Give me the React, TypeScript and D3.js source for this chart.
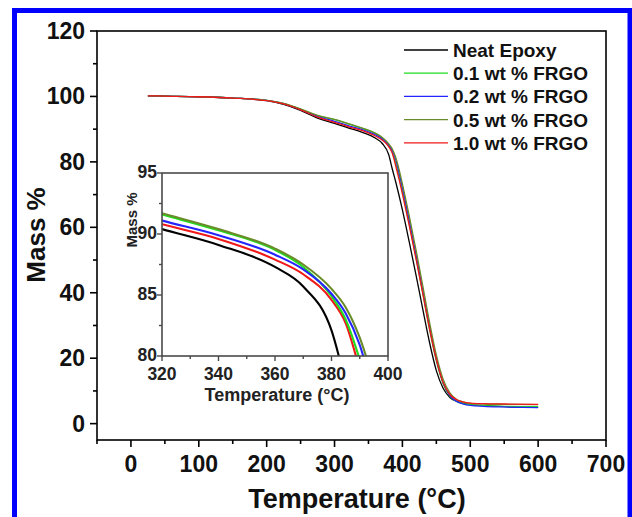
import * as d3 from "d3";

// temperatures (°C) shared by every TGA curve
const temps = [25, 50, 100, 150, 200, 225, 250, 275, 300, 320, 340, 360, 370, 380, 385, 390, 395, 400, 410, 420, 430, 440, 450, 460, 470, 480, 490, 500, 520, 550, 600];

// mass % for each sample
const neatEpoxy = [100.2, 100.1, 99.9, 99.5, 98.7, 97.6, 95.7, 93.4, 91.8, 90.4, 89.1, 87.3, 85.7, 82.1, 77.9, 74.0, 69.8, 65.3, 55.6, 45.5, 35.0, 24.8, 16.2, 10.8, 8.0, 6.8, 6.2, 5.8, 5.5, 5.2, 5.0];
const frgo01 = [100.2, 100.1, 99.9, 99.5, 98.8, 97.8, 96.1, 94.1, 92.9, 91.6, 90.3, 88.7, 87.3, 84.9, 83.0, 79.7, 75.5, 71.0, 61.2, 50.8, 39.8, 28.8, 19.2, 12.2, 8.4, 6.8, 6.1, 5.8, 5.5, 5.3, 5.2];
const frgo02 = [100.2, 100.1, 99.9, 99.5, 98.8, 97.8, 96.0, 93.9, 92.4, 91.1, 89.9, 88.3, 87.1, 85.1, 83.5, 80.9, 76.8, 72.2, 62.3, 51.8, 40.8, 29.6, 19.8, 12.6, 8.6, 6.8, 6.0, 5.6, 5.3, 5.1, 4.9];
const frgo05 = [100.2, 100.1, 99.9, 99.5, 98.8, 97.9, 96.2, 94.2, 93.0, 91.7, 90.4, 88.8, 87.5, 85.5, 84.0, 81.5, 77.8, 73.3, 63.6, 53.2, 42.2, 31.0, 21.0, 13.6, 9.4, 7.4, 6.6, 6.2, 6.0, 5.9, 5.8];
const frgo10 = [100.2, 100.1, 99.9, 99.5, 98.7, 97.7, 95.9, 93.7, 92.1, 90.8, 89.6, 87.9, 86.7, 84.6, 82.7, 78.9, 74.7, 70.2, 60.6, 50.4, 39.8, 29.0, 19.6, 12.6, 8.9, 7.3, 6.6, 6.3, 6.1, 6.0, 5.9];

const seriesNames = ["Neat Epoxy", "0.1 wt % FRGO", "0.2 wt % FRGO", "0.5 wt % FRGO", "1.0 wt % FRGO"];
const seriesValues = [neatEpoxy, frgo01, frgo02, frgo05, frgo10];
const seriesColors = ["#000000", "#1fdc1f", "#2424ff", "#6a8c28", "#f01818"];

const xTicks = [0, 100, 200, 300, 400, 500, 600, 700];
const xMinor = [-50, 50, 150, 250, 350, 450, 550, 650];
const yTicks = [0, 20, 40, 60, 80, 100, 120];
const yMinor = [10, 30, 50, 70, 90, 110];

const insetXTicks = [320, 340, 360, 380, 400];
const insetXMinor = [330, 350, 370, 390];
const insetYTicks = [80, 85, 90, 95];
const insetYMinor = [82.5, 87.5, 92.5];

const W = 632;
const H = 517;
const FONT = "'Liberation Sans', Arial, Helvetica, sans-serif";

export default function App() {
  // main plot scales
  const x = d3.scaleLinear().domain([-50, 700]).range([97, 606]);
  const y = d3.scaleLinear().domain([-5, 120]).range([440, 31]);
  // inset scales
  const ix = d3.scaleLinear().domain([320, 400]).range([162, 388]);
  const iy = d3.scaleLinear().domain([80, 95]).range([356, 173]);

  const pts = (vals: number[]) => temps.map((t, i) => [t, vals[i]] as [number, number]);

  const mainLine = d3
    .line<[number, number]>()
    .x(d => x(d[0]))
    .y(d => y(d[1]))
    .curve(d3.curveMonotoneX);

  const insetLine = d3
    .line<[number, number]>()
    .x(d => ix(d[0]))
    .y(d => iy(d[1]))
    .curve(d3.curveMonotoneX);

  const [x0, x1] = x.range();
  const [yb, yt] = y.range();
  const [ix0, ix1] = ix.range();
  const [iyb, iyt] = iy.range();

  const legendY0 = 50;
  const legendStep = 23.2;

  return (
    <svg width={W} height={H} style={{ position: "absolute", left: 0, top: 0, background: "#fff" }} fontFamily={FONT}>
      <rect x={0} y={0} width={W} height={H} fill="#fff" />
      <defs>
        <clipPath id="insetClip">
          <rect x={ix0} y={iyt} width={ix1 - ix0} height={iyb - iyt} />
        </clipPath>
      </defs>

      {/* main curves */}
      <g fill="none" strokeWidth={1.3}>
        {seriesValues.map((v, i) => (
          <path key={i} d={mainLine(pts(v)) || ""} stroke={seriesColors[i]} />
        ))}
      </g>

      {/* main frame */}
      <rect x={x0} y={yt} width={x1 - x0} height={yb - yt} fill="none" stroke="#000" strokeWidth={1.6} />

      {/* main ticks */}
      <g stroke="#000" strokeWidth={1.6}>
        {xTicks.map(t => (
          <line key={"xt" + t} x1={x(t)} x2={x(t)} y1={yb} y2={yb + 7} />
        ))}
        {xMinor.map(t => (
          <line key={"xm" + t} x1={x(t)} x2={x(t)} y1={yb} y2={yb + 4} />
        ))}
        {yTicks.map(t => (
          <line key={"yt" + t} x1={x0} x2={x0 - 7} y1={y(t)} y2={y(t)} />
        ))}
        {yMinor.map(t => (
          <line key={"ym" + t} x1={x0} x2={x0 - 4} y1={y(t)} y2={y(t)} />
        ))}
      </g>
      <g fontSize={23} fontWeight="bold" fill="#111">
        {xTicks.map(t => (
          <text key={"xl" + t} x={x(t)} y={472} textAnchor="middle">{t}</text>
        ))}
        {yTicks.map(t => (
          <text key={"yl" + t} x={85} y={y(t) + 8} textAnchor="end">{t}</text>
        ))}
      </g>
      <text x={357} y={508} textAnchor="middle" fontSize={27} fontWeight="bold" fill="#111">Temperature (°C)</text>
      <text transform={`translate(45,235) rotate(-90)`} textAnchor="middle" fontSize={26} fontWeight="bold" fill="#111">Mass %</text>

      {/* legend */}
      <g fontSize={19} fontWeight="bold" fill="#111">
        {seriesNames.map((n, i) => (
          <g key={n}>
            <line x1={404} x2={448} y1={legendY0 + i * legendStep} y2={legendY0 + i * legendStep} stroke={seriesColors[i]} strokeWidth={1.3} />
            <text x={453} y={legendY0 + i * legendStep + 7}>{n}</text>
          </g>
        ))}
      </g>

      {/* inset */}
      <rect x={ix0} y={iyt} width={ix1 - ix0} height={iyb - iyt} fill="#fff" />
      <g fill="none" strokeWidth={2.1} clipPath="url(#insetClip)">
        {[0, 4, 1, 2, 3].map(i => (
          <path key={i} d={insetLine(pts(seriesValues[i])) || ""} stroke={seriesColors[i]} />
        ))}
      </g>
      <rect x={ix0} y={iyt} width={ix1 - ix0} height={iyb - iyt} fill="none" stroke="#4a4a4a" strokeWidth={1.6} />
      <g stroke="#4a4a4a" strokeWidth={1.4}>
        {insetXTicks.map(t => (
          <line key={"ixt" + t} x1={ix(t)} x2={ix(t)} y1={iyb} y2={iyb + 5} />
        ))}
        {insetXMinor.map(t => (
          <line key={"ixm" + t} x1={ix(t)} x2={ix(t)} y1={iyb} y2={iyb + 3} />
        ))}
        {insetYTicks.map(t => (
          <line key={"iyt" + t} x1={ix0} x2={ix0 - 5} y1={iy(t)} y2={iy(t)} />
        ))}
        {insetYMinor.map(t => (
          <line key={"iym" + t} x1={ix0} x2={ix0 - 3} y1={iy(t)} y2={iy(t)} />
        ))}
      </g>
      <g fontSize={17.5} fontWeight="bold" fill="#222">
        {insetXTicks.map(t => (
          <text key={"ixl" + t} x={ix(t)} y={380} textAnchor="middle">{t}</text>
        ))}
        {insetYTicks.map(t => (
          <text key={"iyl" + t} x={157} y={iy(t) + 5} textAnchor="end">{t}</text>
        ))}
      </g>
      <text x={277} y={401} textAnchor="middle" fontSize={18} fontWeight="bold" fill="#222">Temperature (°C)</text>
      <text transform={`translate(137,220) rotate(-90)`} textAnchor="middle" fontSize={15} fontWeight="bold" fill="#222">Mass %</text>

      {/* blue border */}
      <rect x={14.5} y={10.5} width={615.5} height={520} fill="none" stroke="#0000ff" strokeWidth={5} />
    </svg>
  );
}
